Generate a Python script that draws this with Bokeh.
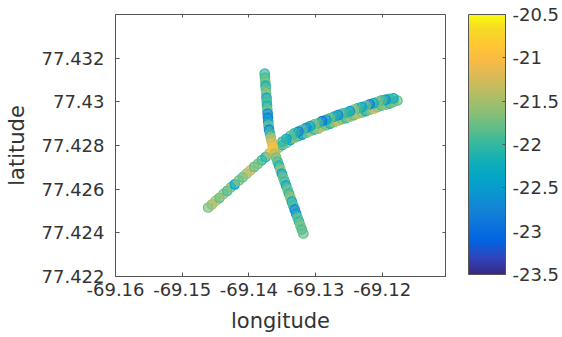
import numpy as np
from bokeh.plotting import figure
from bokeh.models import (LinearColorMapper, ColorBar, LinearAxis, FixedTicker, Range1d,
                          ColumnDataSource, CustomJSTickFormatter)
from bokeh.transform import transform
from bokeh.embed import file_html
from bokeh.resources import INLINE

# ---------------- data ----------------
# Track 1: south-west leg, then north-east leg out (lower band) and back (upper band)
track1_lon = [
    -69.14610, -69.14555, -69.14498, -69.14440, -69.14382, -69.14325, -69.14268, -69.14210, -69.14150,
    -69.14092, -69.14035, -69.13978, -69.13920, -69.13862, -69.13805, -69.13748, -69.13690, -69.13632,
    -69.13614, -69.13554, -69.13495, -69.13436, -69.13376, -69.13317, -69.13257, -69.13198, -69.13138,
    -69.13079, -69.13019, -69.12960, -69.12901, -69.12841, -69.12782, -69.12722, -69.12663, -69.12603,
    -69.12544, -69.12485, -69.12425, -69.12366, -69.12306, -69.12247, -69.12187, -69.12128, -69.12069,
    -69.12009, -69.11950, -69.11890, -69.11831, -69.11771,
    -69.11831, -69.11890, -69.11950, -69.12009, -69.12069, -69.12128, -69.12187, -69.12247, -69.12306,
    -69.12366, -69.12425, -69.12485, -69.12544, -69.12603, -69.12663, -69.12722, -69.12782, -69.12841,
    -69.12901, -69.12960, -69.13019, -69.13079, -69.13138, -69.13198, -69.13257, -69.13317, -69.13376,
    -69.13436, -69.13495,
]
track1_lat = [
    77.42516, 77.42530, 77.42547, 77.42560, 77.42578, 77.42592, 77.42609, 77.42622, 77.42640,
    77.42655, 77.42671, 77.42686, 77.42702, 77.42716, 77.42733, 77.42747, 77.42764, 77.42780,
    77.42781, 77.42790, 77.42802, 77.42813, 77.42825, 77.42836, 77.42843, 77.42850, 77.42859,
    77.42866, 77.42873, 77.42877, 77.42887, 77.42893, 77.42900, 77.42907, 77.42914, 77.42921,
    77.42925, 77.42932, 77.42939, 77.42946, 77.42951, 77.42957, 77.42964, 77.42969, 77.42976,
    77.42983, 77.42987, 77.42992, 77.42999, 77.43006,
    77.43016, 77.43014, 77.43010, 77.43007, 77.43000, 77.42994, 77.42989, 77.42982, 77.42976,
    77.42971, 77.42964, 77.42957, 77.42950, 77.42946, 77.42939, 77.42932, 77.42925, 77.42918,
    77.42912, 77.42902, 77.42897, 77.42889, 77.42881, 77.42872, 77.42864, 77.42856, 77.42844,
    77.42831, 77.42818,
]
track1_val = [
    -21.7, -21.6, -21.4, -21.8, -21.6, -21.9, -21.7, -22.4, -21.7,
    -21.8, -21.6, -21.3, -21.8, -21.7, -21.9, -22.1, -21.5, -21.0,
    -21.2, -21.5, -22.0, -21.7, -22.3, -21.6, -21.9, -22.5, -21.8,
    -21.5, -22.0, -21.6, -21.4, -21.8, -22.1, -21.6, -21.3, -21.7,
    -22.0, -21.5, -21.8, -21.4, -21.6, -22.2, -21.7, -21.3, -21.6,
    -21.9, -21.6, -22.0, -21.7, -21.8,
    -22.3, -22.0, -22.6, -21.9, -21.7, -22.2, -22.8, -21.8, -22.4,
    -22.0, -21.6, -22.5, -22.1, -21.9, -22.7, -22.2, -21.8, -22.4,
    -22.9, -22.0, -21.7, -22.3, -22.6, -21.9, -22.8, -22.1, -21.8,
    -22.4, -22.0,
]

# Track 2: north to south leg
track2_lon = [
    -69.13762, -69.13758, -69.13753, -69.13749, -69.13744, -69.13740, -69.13735, -69.13731, -69.13727,
    -69.13722, -69.13718, -69.13713, -69.13709, -69.13704, -69.13697, -69.13683, -69.13670, -69.13657,
    -69.13643, -69.13634, -69.13612, -69.13591, -69.13569, -69.13548, -69.13526, -69.13505, -69.13484,
    -69.13462, -69.13441, -69.13419, -69.13398, -69.13376, -69.13355, -69.13334, -69.13312, -69.13291,
    -69.13269, -69.13248, -69.13226, -69.13205, -69.13183,
]
track2_lat = [
    77.43129, 77.43111, 77.43093, 77.43074, 77.43056, 77.43038, 77.43019, 77.43001, 77.42983,
    77.42964, 77.42946, 77.42928, 77.42909, 77.42891, 77.42873, 77.42855, 77.42836, 77.42818,
    77.42800, 77.42781, 77.42763, 77.42745, 77.42726, 77.42708, 77.42690, 77.42671, 77.42653,
    77.42635, 77.42617, 77.42598, 77.42580, 77.42562, 77.42543, 77.42525, 77.42507, 77.42488,
    77.42470, 77.42452, 77.42433, 77.42415, 77.42397,
]
track2_val = [
    -22.0, -21.9, -21.7, -22.2, -21.8, -21.6, -22.3, -21.9, -22.1,
    -21.7, -22.6, -22.8, -22.4, -21.8, -22.7, -22.0, -21.5, -21.3,
    -21.1, -20.9, -21.4, -21.7, -21.9, -22.1, -21.6, -22.4, -21.8,
    -21.9, -22.3, -21.7, -22.0, -21.6, -22.2, -21.9, -22.7, -22.5,
    -21.8, -22.0, -21.7, -21.9, -21.8,
]

x_ticks = [-69.16, -69.15, -69.14, -69.13, -69.12]
y_ticks = [77.422, 77.424, 77.426, 77.428, 77.43, 77.432]
cbar_ticks = [-23.5, -23, -22.5, -22, -21.5, -21, -20.5]
cbar_low, cbar_high = -23.5, -20.5
x_limits = (-69.16, -69.1105)
y_limits = (77.422, 77.434)

# ---------------- parula-like palette (style) ----------------
_anchors = [
    (0, (0.2081, 0.1663, 0.5292)), (4, (0.1959, 0.2645, 0.7279)), (8, (0.0117, 0.3875, 0.8820)),
    (12, (0.0498, 0.4586, 0.8641)), (16, (0.0793, 0.5200, 0.8312)), (20, (0.0343, 0.5966, 0.8199)),
    (24, (0.0228, 0.6535, 0.7768)), (28, (0.0843, 0.6928, 0.7062)), (32, (0.2178, 0.7250, 0.6193)),
    (36, (0.3953, 0.7459, 0.5244)), (40, (0.5709, 0.7485, 0.4494)), (44, (0.7184, 0.7411, 0.3905)),
    (48, (0.8507, 0.7299, 0.3360)), (52, (0.9739, 0.7314, 0.2666)), (56, (0.9955, 0.7861, 0.1967)),
    (60, (0.9626, 0.8705, 0.1309)), (63, (0.9763, 0.9831, 0.0538)),
]
_pos = np.array([a[0] for a in _anchors]) / 63.0
_rgb = np.array([a[1] for a in _anchors])
_t = np.linspace(0, 1, 256)
parula = []
for tt in _t:
    r, g, b = (np.interp(tt, _pos, _rgb[:, k]) for k in range(3))
    parula.append("#%02x%02x%02x" % (int(round(r * 255)), int(round(g * 255)), int(round(b * 255))))

# ---------------- figure ----------------
FONT = "DejaVu Sans"
TXT = "#333333"
LINE = "#555555"
tick_fs = "18px"
label_fs = "21px"

source = ColumnDataSource(dict(
    lon=track1_lon + track2_lon,
    lat=track1_lat + track2_lat,
    val=track1_val + track2_val,
))

mapper = LinearColorMapper(palette=parula, low=cbar_low, high=cbar_high)

p = figure(width=562, height=337, output_backend="svg", toolbar_location=None,
           x_range=Range1d(*x_limits), y_range=Range1d(*y_limits),
           min_border_left=115, min_border_right=114, min_border_top=14, min_border_bottom=61,
           background_fill_color="white", border_fill_color="white")
p.xgrid.visible = False
p.ygrid.visible = False
p.outline_line_color = LINE
p.outline_line_width = 1

fmt = CustomJSTickFormatter(code="return String(Number(tick.toPrecision(8)));")
blank = CustomJSTickFormatter(code="return '';")

for ax, ticks in ((p.xaxis[0], x_ticks), (p.yaxis[0], y_ticks)):
    ax.ticker = FixedTicker(ticks=ticks)
    ax.formatter = fmt
    ax.minor_tick_line_color = None
    ax.major_tick_in = 4
    ax.major_tick_out = 0
    ax.major_tick_line_color = LINE
    ax.axis_line_color = LINE
    ax.major_label_text_font = FONT
    ax.major_label_text_font_size = tick_fs
    ax.major_label_text_color = TXT
    ax.axis_label_text_font = FONT
    ax.axis_label_text_font_size = label_fs
    ax.axis_label_text_font_style = "normal"
    ax.axis_label_text_color = TXT

p.xaxis.axis_label = "longitude"
p.yaxis.axis_label = "latitude"
p.xaxis.major_label_standoff = 6
p.yaxis.major_label_standoff = 11
p.xaxis.axis_label_standoff = 10
p.yaxis.axis_label_standoff = 10

# mirrored ticks on top and right
for side, ticks in (("above", x_ticks), ("right", y_ticks)):
    a = LinearAxis(ticker=FixedTicker(ticks=ticks), formatter=blank,
                   major_label_standoff=0, major_tick_in=3, major_tick_out=0,
                   major_tick_line_color=LINE, axis_line_color=None, minor_tick_line_color=None)
    p.add_layout(a, side)

p.scatter("lon", "lat", source=source, marker="circle", size=9.5,
          fill_color=transform("val", mapper), line_color=transform("val", mapper),
          fill_alpha=0.65, line_alpha=1.0, line_width=1.2)

cbar = ColorBar(color_mapper=mapper, ticker=FixedTicker(ticks=cbar_ticks), formatter=fmt,
                width=37, height=260, padding=0, margin=0, location=(23, 2),
                bar_line_color=LINE, major_tick_line_color=LINE, major_tick_in=3, major_tick_out=0,
                minor_tick_line_color=None, label_standoff=7,
                major_label_text_font=FONT, major_label_text_font_size=tick_fs,
                major_label_text_color=TXT, background_fill_color=None)
p.add_layout(cbar, "right")

open("out.html", "w").write(file_html(p, INLINE))
